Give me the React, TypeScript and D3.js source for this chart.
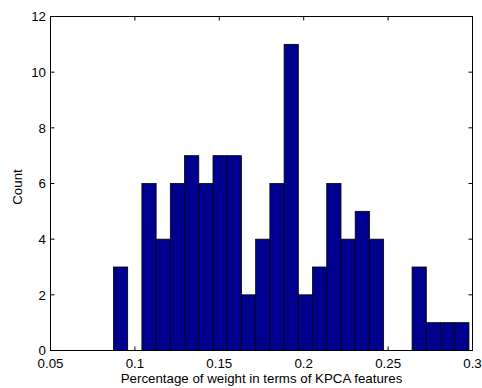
import React from "react";
import * as d3 from "d3";

// histogram: 25 equal bins between the smallest and largest sample
const dataMin = 0.0873;
const dataMax = 0.2979;
const counts = [3, 0, 6, 4, 6, 7, 6, 7, 7, 2, 4, 6, 11, 2, 3, 6, 4, 5, 4, 0, 0, 3, 1, 1, 1];
const xTicks = [0.05, 0.1, 0.15, 0.2, 0.25, 0.3];
const xTickLabels = ["0.05", "0.1", "0.15", "0.2", "0.25", "0.3"];
const yTicks = [0, 2, 4, 6, 8, 10, 12];

const width = 482;
const height = 388;
const left = 50.5;
const right = 472.5;
const top = 16.5;
const bottom = 350.5;
const font = "'Liberation Sans', Arial, Helvetica, sans-serif";

const App = () => {
  const x = d3.scaleLinear().domain([0.05, 0.3]).range([left, right]);
  const y = d3.scaleLinear().domain([0, 12]).range([bottom, top]);
  const binW = (dataMax - dataMin) / counts.length;
  const tick = 4;

  return (
    <svg width={width} height={height} style={{ position: "absolute", left: 0, top: 0 }}>
      <rect x={0} y={0} width={width} height={height} fill="#fff" />
      <g>
        {counts.map((c, i) => {
          const x0 = x(dataMin + i * binW);
          const x1 = x(dataMin + (i + 1) * binW);
          return (
            <rect
              key={i}
              x={x0}
              y={y(c)}
              width={x1 - x0}
              height={y(0) - y(c)}
              fill="#00008f"
              stroke="#000"
              strokeWidth={0.8}
            />
          );
        })}
      </g>
      <g stroke="#000" strokeWidth={1}>
        {xTicks.map((t, i) => (
          <g key={i}>
            <line x1={x(t)} x2={x(t)} y1={bottom} y2={bottom - tick} />
            <line x1={x(t)} x2={x(t)} y1={top} y2={top + tick} />
          </g>
        ))}
        {yTicks.map((t, i) => (
          <g key={i}>
            <line x1={left} x2={left + tick} y1={y(t)} y2={y(t)} />
            <line x1={right} x2={right - tick} y1={y(t)} y2={y(t)} />
          </g>
        ))}
        <rect x={left} y={top} width={right - left} height={bottom - top} fill="none" />
      </g>
      <g fontFamily={font} fontSize={13.3} fill="#000">
        {xTicks.map((t, i) => (
          <text key={i} x={x(t)} y={367.5} textAnchor="middle">
            {xTickLabels[i]}
          </text>
        ))}
        {yTicks.map((t, i) => (
          <text key={i} x={46} y={y(t) + 4.8} textAnchor="end">
            {t}
          </text>
        ))}
        <text x={(left + right) / 2} y={382.5} textAnchor="middle">
          Percentage of weight in terms of KPCA features
        </text>
        <text transform={`translate(22.3 187) rotate(-90)`} textAnchor="middle">
          Count
        </text>
      </g>
    </svg>
  );
};

export default App;
